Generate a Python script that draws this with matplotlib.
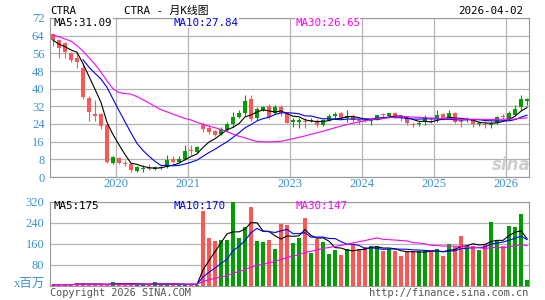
import numpy as np
import matplotlib.pyplot as plt
import pandas as pd

# Monthly K-line data, one entry per candle (the source skips some months,
# so candles are placed by index, not by date)
opens = [64.6, 62.0, 60.5, 56.0, 53.8, 49.5, 35.9, 28.4, 28.4, 23.5,
         6.5, 8.7, 6.5, 5.7, 2.9, 3.7, 4.1, 3.6, 4.0, 4.4,
         8.3, 6.9, 8.0, 12.1, 11.5, 23.5, 22.0, 21.0, 19.5, 21.3,
         24.0, 27.3, 28.8, 35.3, 26.6, 30.3, 32.2, 28.8, 31.8, 29.1,
         25.0, 25.0, 25.4, 25.2, 25.4, 23.6, 25.7, 27.5, 28.8, 26.6,
         27.8, 25.8, 25.8, 25.3, 26.3, 28.3, 27.6, 29.1, 27.6, 26.6,
         23.8, 24.1, 25.0, 25.3, 26.1, 28.5, 27.3, 28.8, 25.0, 25.6,
         25.8, 23.8, 23.7, 23.5, 24.3, 27.5, 26.1, 28.1, 31.8, 34.6]
closes = [62.0, 58.3, 56.8, 53.0, 52.2, 36.4, 29.3, 27.8, 23.2, 6.9,
          8.9, 6.2, 5.9, 3.2, 4.4, 4.2, 3.5, 4.4, 4.3, 7.7,
          6.9, 8.3, 11.8, 11.6, 13.7, 21.6, 20.5, 19.2, 21.7, 23.9,
          27.0, 29.1, 34.4, 26.1, 30.7, 31.6, 27.0, 31.6, 28.8, 24.6,
          25.7, 25.6, 24.8, 26.0, 23.6, 25.7, 27.8, 28.5, 26.9, 27.8,
          25.8, 25.2, 25.4, 25.8, 28.0, 28.0, 28.8, 27.0, 26.6, 24.3,
          23.5, 24.5, 27.3, 25.0, 28.0, 26.1, 29.1, 25.0, 24.7, 26.0,
          24.0, 24.2, 23.5, 23.9, 27.0, 27.2, 28.8, 30.8, 35.3, 35.2]
highs = [64.8, 62.3, 61.0, 56.5, 56.8, 51.5, 36.5, 34.9, 28.8, 24.2,
         9.7, 9.2, 7.8, 6.0, 5.0, 5.4, 6.0, 5.2, 5.0, 10.0,
         9.3, 9.3, 14.5, 14.5, 14.0, 24.8, 23.6, 21.5, 22.5, 24.7,
         29.6, 30.3, 37.1, 37.1, 31.8, 32.2, 33.2, 32.5, 32.5, 29.5,
         26.9, 26.9, 26.7, 26.5, 26.2, 26.2, 28.4, 29.3, 29.3, 30.3,
         28.4, 26.4, 26.0, 26.4, 28.3, 28.8, 29.1, 29.3, 28.0, 26.9,
         24.9, 25.5, 28.0, 26.5, 30.3, 29.0, 30.5, 29.5, 26.4, 27.3,
         26.4, 25.2, 25.2, 25.2, 27.6, 28.5, 30.0, 32.6, 37.1, 36.0]
lows = [59.5, 54.0, 53.7, 52.2, 49.2, 35.5, 25.5, 25.4, 21.7, 6.3,
        5.9, 5.8, 5.0, 2.4, 2.4, 2.4, 3.0, 3.0, 3.4, 3.9,
        6.2, 6.2, 7.7, 10.0, 10.8, 20.5, 19.5, 18.7, 18.8, 20.4,
        22.8, 26.5, 27.6, 25.3, 25.8, 29.9, 26.3, 28.5, 27.5, 24.3,
        22.8, 22.3, 22.3, 24.8, 22.6, 22.9, 25.2, 26.6, 26.3, 25.0,
        25.0, 24.0, 24.8, 23.6, 26.0, 27.3, 27.2, 26.6, 25.5, 23.6,
        22.7, 23.0, 23.4, 24.3, 25.0, 25.8, 26.6, 24.3, 22.6, 24.7,
        22.6, 22.9, 22.1, 22.1, 24.0, 26.4, 25.6, 27.5, 30.3, 32.6]
# volume in millions
volumes = [3, 4, 3, 4, 9, 7, 3, 4, 3, 4,
           12, 10, 3, 4, 3, 6, 3, 12, 3, 4,
           6, 4, 3, 4, 3, 286, 183, 172, 174, 174,
           325, 183, 223, 299, 172, 168, 174, 140, 236, 232,
           161, 183, 260, 125, 177, 168, 120, 136, 117, 138,
           155, 138, 146, 151, 151, 132, 138, 132, 113, 132,
           132, 132, 132, 132, 138, 113, 159, 149, 190, 151,
           151, 136, 159, 245, 174, 151, 228, 223, 274, 20]

# MA30 for the first months reaches back before the first shown candle,
# so those values are read off the chart
price_ma30_head = [64.3, 63.5, 62.5, 61.5, 59.5, 57.0, 54.0, 51.0, 47.5, 43.5,
                   40.0, 38.2, 37.8, 37.5, 36.4, 35.0, 33.5, 32.0, 30.5, 29.5,
                   28.5, 27.5, 26.5, 25.8, 24.8, 23.8, 23.0, 22.3, 21.5]

# index of the first candle of each labelled year
year_labels = ['2020', '2021', '2023', '2024', '2025', '2026']
year_first_idx = [11, 23, 40, 52, 64, 76]

price_ticks = list(range(0, 73, 8))
vol_ticks = [80, 160, 240, 320]

ticker = 'CTRA'
chart_date = '2026-04-02'
price_ma_text = ['31.09', '27.84', '26.65']
vol_ma_text = ['175', '170', '147']

# ---- derived series ----
df = pd.DataFrame({'open': opens, 'close': closes, 'high': highs,
                   'low': lows, 'vol': volumes})
df['ma5'] = df['close'].rolling(5, min_periods=1).mean()
df['ma10'] = df['close'].rolling(10, min_periods=6).mean()
df['ma30'] = df['close'].rolling(30).mean()
df.loc[:len(price_ma30_head) - 1, 'ma30'] = price_ma30_head
df['vma5'] = df['vol'].rolling(5, min_periods=1).mean()
df['vma10'] = df['vol'].rolling(10, min_periods=1).mean()
df['vma30'] = df['vol'].rolling(30, min_periods=1).mean()

x = np.arange(len(df))
RED = '#ff5555'
GREEN = '#009e00'
cols = np.where(df['close'] >= df['open'], GREEN, RED)

BLUE_TXT = '#3a8fd8'
GRID = '#b4b4b4'
MONO = 'DejaVu Sans Mono'
SERIF = 'Liberation Serif'

fig = plt.figure(figsize=(5.45, 3.0), dpi=100)
W, H = 545.0, 300.0
ax = fig.add_axes([50 / W, 1 - 177 / H, 479 / W, 159 / H])
axv = fig.add_axes([50 / W, 1 - 285.5 / H, 479 / W, 83.5 / H])

# ---- price panel ----
body_bottom = np.minimum(df['open'], df['close'])
body_h = np.maximum(np.abs(df['close'] - df['open']), 0.45)
ax.vlines(x, df['low'], df['high'], colors=cols, lw=0.8, zorder=3)
ax.bar(x, body_h, bottom=body_bottom, width=0.8, color=cols, lw=0, zorder=3)
ax.plot(x, df['ma5'], color='black', lw=0.8, zorder=4)
ax.plot(x, df['ma10'], color='#0000ff', lw=0.8, zorder=4)
ax.plot(x, df['ma30'], color='#ff00ff', lw=0.8, zorder=4)

ax.set_xlim(-0.5, 79.33)
ax.set_ylim(0, 72)
ax.set_yticks(price_ticks)
ax.set_yticklabels([str(t) for t in price_ticks])
ax.set_xticks(np.array(year_first_idx) - 0.5)
ax.set_xticklabels(year_labels)
ax.grid(True, color=GRID, lw=0.9)
ax.set_axisbelow(True)
ax.tick_params(length=0, labelcolor=BLUE_TXT, labelsize=9, pad=4)
ax.tick_params(axis='x', pad=1)
for lab in ax.get_xticklabels() + ax.get_yticklabels():
    lab.set_family(SERIF)
for s in ax.spines.values():
    s.set_color('#999999')

# ---- volume panel ----
axv.bar(x, df['vol'], width=0.8, color=cols, lw=0, zorder=3)
axv.plot(x, df['vma5'], color='black', lw=0.8, zorder=4)
axv.plot(x, df['vma10'], color='#0000ff', lw=0.8, zorder=4)
axv.plot(x, df['vma30'], color='#ff00ff', lw=0.8, zorder=4)
axv.set_xlim(-0.5, 79.33)
axv.set_ylim(0, 320)
axv.set_yticks(vol_ticks)
axv.set_yticklabels([str(t) for t in vol_ticks])
axv.set_xticks([])
axv.grid(True, axis='y', color=GRID, lw=0.9)
axv.set_axisbelow(True)
axv.tick_params(length=0, labelcolor=BLUE_TXT, labelsize=9, pad=4)
for lab in axv.get_yticklabels():
    lab.set_family(SERIF)
for s in axv.spines.values():
    s.set_color('#999999')

# ---- texts ----
def ftext(px, py, s, **kw):
    fig.text(px / W, 1 - py / H, s, **kw)

ftext(50, 11, ticker, family=MONO, fontsize=7.8, va='center')
ftext(166, 11, ticker + ' - 月K线图', family=[MONO, 'Noto Sans CJK SC'],
      fontsize=7.8, va='center', ha='center')
ftext(523, 11, chart_date, family=MONO, fontsize=7.8, va='center', ha='right')

box = dict(facecolor='white', edgecolor='none', pad=0.3)
ftext(54, 23, 'MA5:' + price_ma_text[0], family=MONO, fontsize=7.8,
      va='center', color='black', bbox=box)
ftext(174, 23, 'MA10:' + price_ma_text[1], family=MONO, fontsize=7.8,
      va='center', color='#0000ff', bbox=box)
ftext(295, 23, 'MA30:' + price_ma_text[2], family=MONO, fontsize=7.8,
      va='center', color='#ff00ff', bbox=box)

ftext(54, 206, 'MA5:' + vol_ma_text[0], family=MONO, fontsize=7.8,
      va='center', color='black')
ftext(174, 206, 'MA10:' + vol_ma_text[1], family=MONO, fontsize=7.8,
      va='center', color='#0000ff')
ftext(295, 206, 'MA30:' + vol_ma_text[2], family=MONO, fontsize=7.8,
      va='center', color='#ff00ff')

ftext(45, 284, 'x百万', family=[SERIF, 'Noto Sans CJK SC'], fontsize=9,
      color=BLUE_TXT, va='center', ha='right')
ftext(50, 293, 'Copyright 2026 SINA.COM', family=MONO, fontsize=7.4,
      va='center', color='#555555')
ftext(528, 293, 'http://finance.sina.com.cn', family=MONO, fontsize=7.4,
      va='center', ha='right', color='#555555')

# faint sina watermark
ftext(511, 165, 'sina', fontsize=12, fontweight='bold', style='italic',
      color='#cfcfcf', ha='center', va='center', zorder=1)

fig.savefig('out.png', dpi=100)
